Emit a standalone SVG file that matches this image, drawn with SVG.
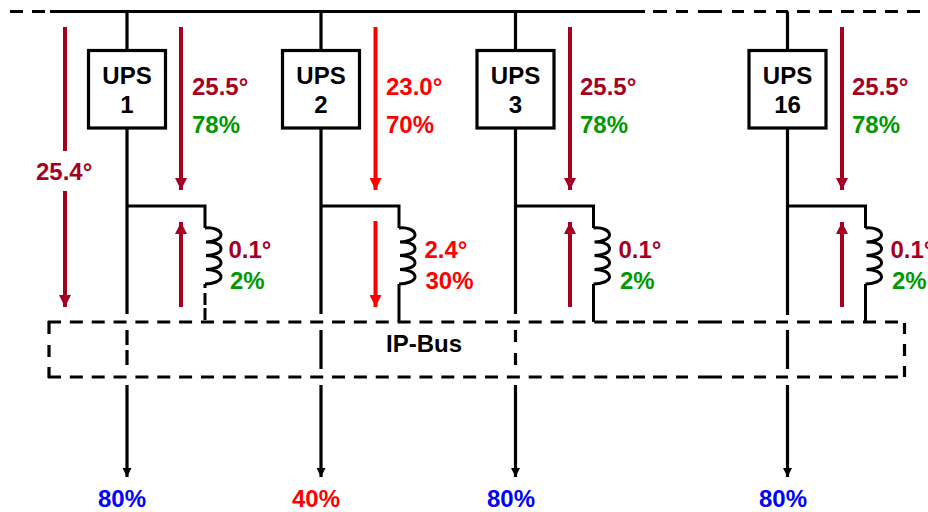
<svg xmlns="http://www.w3.org/2000/svg" width="928" height="512" viewBox="0 0 928 512">
<style>
text{font-family:"Liberation Sans",Arial,sans-serif;font-weight:bold;font-size:24px}
.k{fill:#000}.d{fill:#a50021}.r{fill:#ff0000}.g{fill:#009900}.b{fill:#0000ff}
.m{text-anchor:middle}
.w{fill:none;stroke:#000;stroke-width:3.2}
.dash{stroke-dasharray:13 8.85}
.c{fill:none;stroke:#000;stroke-width:3}
.ad{stroke:#a50021;stroke-width:4;fill:none}
.ar{stroke:#ff0000;stroke-width:4;fill:none}
.box{fill:#fff;stroke:#000;stroke-width:3.2}
</style>
<defs>
<marker id="hd" markerUnits="userSpaceOnUse" markerWidth="12" markerHeight="12" refX="12" refY="6" orient="auto"><path d="M0 0L12 6L0 12Z" fill="#a50021"/></marker>
<marker id="hr" markerUnits="userSpaceOnUse" markerWidth="12" markerHeight="12" refX="12" refY="6" orient="auto"><path d="M0 0L12 6L0 12Z" fill="#ff0000"/></marker>
<marker id="hk" markerUnits="userSpaceOnUse" markerWidth="9" markerHeight="9" refX="9" refY="4.5" orient="auto"><path d="M0 0L9 4.5L0 9Z" fill="#000"/></marker>
<path id="coil" d="M0 0C8 -1 16 2 16 7C16 11 8 14 1 14C9 14 16 16 16 21C16 25 8 27.5 1 27.5C9 27.5 16 30 16 35C16 39 8 41.5 1 41.5C9 41.5 16 44 16 49C16 53 8 56 0 56" fill="none" stroke="#000" stroke-width="3"/>
</defs>
<g id="connectors">
<path class="w" d="M10 11.5H23M32 11.5H45M50 11.5H645"/>
<path class="w" d="M653 11.5H667M676 11.5H688M698 11.5H722M732 11.5H744M754 11.5H766M776 11.5H788M797 11.5H810M819 11.5H832M841 11.5H854M863 11.5H876M885 11.5H898M907 11.5H920"/>
<path class="w dash" d="M48 322H633"/>
<path class="w dash" d="M48 377H633"/>
<path class="w" d="M633 322H645M653 322H667M676 322H688M698 322H722M732 322H744M754 322H766M776 322H788M797 322H810M819 322H832M841 322H854M863 322H876M885 322H898"/>
<path class="w" d="M633 377H645M653 377H667M676 377H688M698 377H722M732 377H744M754 377H766M776 377H788M797 377H810M819 377H832M841 377H854M863 377H876M885 377H898"/>
<path class="w" d="M49 321V334M49 345V357M49 367V378"/>
<path class="w" d="M904.5 323V334M904.5 344V356M904.5 366V377"/>
<path class="w" d="M127 11.5V314M321 11.5V314M515.5 11.5V314M787.5 11.5V315"/>
<path class="w" d="M127 330V345M127 350V365M321 330V369M515.5 330V342M515.5 353V365M787.5 330V369"/>
<path class="w" d="M127 385V477" marker-end="url(#hk)"/>
<path class="w" d="M321 385V477" marker-end="url(#hk)"/>
<path class="w" d="M515.5 385V477" marker-end="url(#hk)"/>
<path class="w" d="M787.5 385V477" marker-end="url(#hk)"/>
<path class="c" d="M127 206H205V228M205 284V288M205 293V305M205 308V320"/>
<path class="c" d="M321 206H399V228M399 284V322"/>
<path class="c" d="M515.5 206H593.5V228M593.5 284V322"/>
<path class="c" d="M787.5 206H865.5V228M865.5 284V322"/>
<use href="#coil" x="205" y="228"/>
<use href="#coil" x="399" y="228"/>
<use href="#coil" x="593.5" y="228"/>
<use href="#coil" x="865.5" y="228"/>
<path class="ad" d="M65 27V151M65 191V307" marker-end="url(#hd)"/>
<path class="ad" d="M181 27V190" marker-end="url(#hd)"/>
<path class="ad" d="M181 307V222" marker-end="url(#hd)"/>
<path class="ar" d="M375.5 27V190" marker-end="url(#hr)"/>
<path class="ar" d="M375.5 221V307" marker-end="url(#hr)"/>
<path class="ad" d="M570 27V190" marker-end="url(#hd)"/>
<path class="ad" d="M570 307V222" marker-end="url(#hd)"/>
<path class="ad" d="M842 27V190" marker-end="url(#hd)"/>
<path class="ad" d="M842 307V222" marker-end="url(#hd)"/>
</g>
<g id="ups1"><rect class="box" x="88.5" y="50.5" width="77" height="77.5"/><text class="k m" x="127" y="84">UPS</text><text class="k m" x="127" y="113">1</text></g>
<g id="ups2"><rect class="box" x="282.5" y="50.5" width="77" height="77.5"/><text class="k m" x="321" y="84">UPS</text><text class="k m" x="321" y="113">2</text></g>
<g id="ups3"><rect class="box" x="477" y="50.5" width="77" height="77.5"/><text class="k m" x="515.5" y="84">UPS</text><text class="k m" x="515.5" y="113">3</text></g>
<g id="ups16"><rect class="box" x="749" y="50.5" width="77" height="77.5"/><text class="k m" x="787.5" y="84">UPS</text><text class="k m" x="787.5" y="113">16</text></g>
<g id="ipbus"><text class="k" x="386" y="352">IP-Bus</text></g>
<g id="labels">
<text class="d" x="36" y="180">25.4°</text>
<text class="d" x="192" y="95">25.5°</text><text class="g" x="192" y="133">78%</text>
<text class="r" x="386" y="95">23.0°</text><text class="r" x="386" y="133">70%</text>
<text class="d" x="580" y="95">25.5°</text><text class="g" x="580" y="133">78%</text>
<text class="d" x="852" y="95">25.5°</text><text class="g" x="852" y="133">78%</text>
<text class="d" x="228.5" y="258">0.1°</text><text class="g" x="230" y="289">2%</text>
<text class="r" x="424.5" y="258">2.4°</text><text class="r" x="425.5" y="289">30%</text>
<text class="d" x="618.5" y="258">0.1°</text><text class="g" x="620" y="289">2%</text>
<text class="d" x="890.5" y="258">0.1°</text><text class="g" x="892" y="289">2%</text>
<text class="b" x="98" y="507">80%</text>
<text class="r" x="292" y="507">40%</text>
<text class="b" x="487" y="507">80%</text>
<text class="b" x="759" y="507">80%</text>
</g>
</svg>
